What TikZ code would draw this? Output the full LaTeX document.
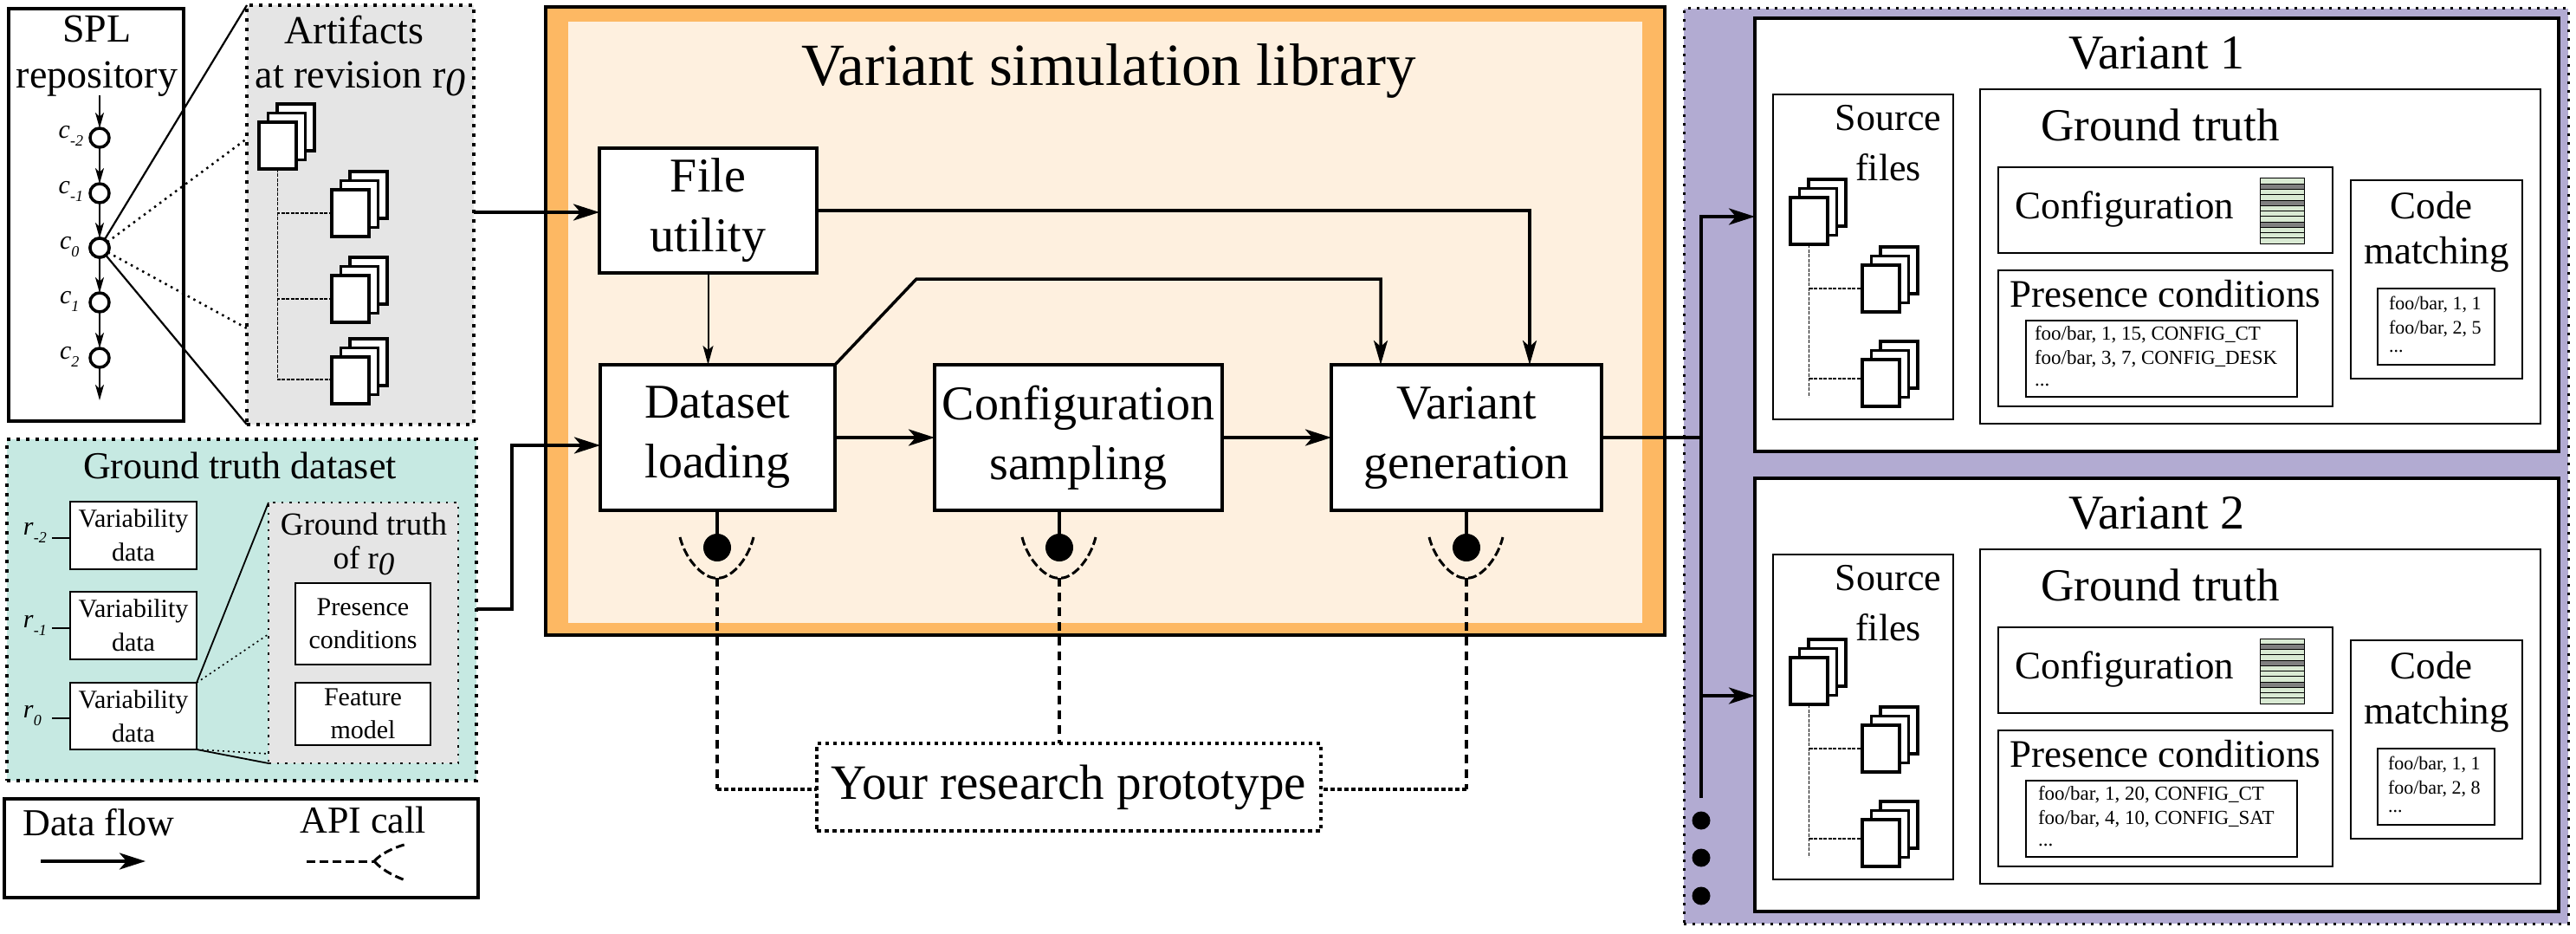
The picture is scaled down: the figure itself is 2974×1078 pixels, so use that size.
\documentclass[tikz,border=0pt]{standalone}
\usepackage{fontspec}
\setmainfont{Liberation Serif}
\usetikzlibrary{arrows.meta}
\definecolor{grayfill}{HTML}{E5E5E5}
\definecolor{tealfill}{HTML}{C6E9E2}
\definecolor{orangeband}{HTML}{FDB863}
\definecolor{creamfill}{HTML}{FEF0DF}
\definecolor{purplefill}{HTML}{B2ABD2}
\definecolor{rowgreen}{HTML}{D9EAD3}
\definecolor{rowdark}{HTML}{808080}
\newcommand{\fs}[1]{\fontsize{#1}{#1}\selectfont}
\newcommand{\revzero}{{\itshape\raisebox{-.18em}{0}}}
\newcommand{\sublab}[2]{\textit{#1}\raisebox{-.3em}{\fontsize{18}{18}\selectfont\textit{#2}}}
% name, x1, y1, x2, y2, options, text
\newcommand{\bx}[7]{%
  \pgfmathsetmacro\cxv{(#2+#4)/2}\pgfmathsetmacro\cyv{(#3+#5)/2}%
  \pgfmathsetmacro\wv{#4-#2}\pgfmathsetmacro\hv{#5-#3}%
  \node[#6,minimum width=\wv pt,minimum height=\hv pt] (#1) at (\cxv,\cyv) {#7};}
% document stack: name, front x1, front y1
\newcommand{\docs}[3]{%
  \pgfmathsetmacro\dxa{#2+21}\pgfmathsetmacro\dya{#3-21}%
  \pgfmathsetmacro\dxb{#2+10.5}\pgfmathsetmacro\dyb{#3-10.5}%
  \node[docsheet,anchor=north west] (#1c) at (\dxa,\dya) {};
  \node[docsheet,anchor=north west] (#1b) at (\dxb,\dyb) {};
  \node[docsheet,anchor=north west] (#1a) at (#2,#3) {};}
% API socket: name, x, box
\newcommand{\apisock}[3]{%
  \node[ballnode] (#1) at (#2,632) {};
  \draw[boxline] (#1 |- #3.south) -- (#1.center);
  \coordinate (#1bot) at (#2,667);
  \pgfmathsetmacro\sxl{#2-43}\pgfmathsetmacro\sxr{#2+42}%
  \pgfmathsetmacro\scl{#2-36}\pgfmathsetmacro\scm{#2-14}\pgfmathsetmacro\scn{#2+14}\pgfmathsetmacro\sco{#2+35}%
  \draw[sockline] (\sxl,620) .. controls (\scl,648) and (\scm,669) .. (#1bot) .. controls (\scn,669) and (\sco,648) .. (\sxr,620);}
% one variant panel: prefix, y top shift, title, pc line 1, pc line 2, cm line 2, pc x, cm x
\newcommand{\variantpanel}[8]{%
\begin{scope}[shift={(0,#2)}]
  \bx{#1box}{2026}{21}{2954}{521}{plainbox,line width=3.5pt}{}
  \node[txt,font=\fs{56}] (#1title) at (2490,61) {#3};
  \bx{#1src}{2047}{109}{2255}{484}{plainbox,line width=2pt}{}
  \node[txt,font=\fs{44}] (#1srca) at (2180,136) {Source};
  \node[txt,font=\fs{44}] (#1srcb) at (2180,193) {files};
  \docs{#1da}{2067}{228}
  \docs{#1db}{2150}{306}
  \docs{#1dc}{2150}{415}
  \coordinate (#1tend) at (2088.5,458);
  \coordinate (#1tbr) at (2150,437);
  \draw[treeline] (#1daa.south) -- (#1tend);
  \draw[treeline] (#1daa.south |- #1dba.west) -- (#1dba.west);
  \draw[treeline] (#1daa.south |- #1tbr) -- (#1tbr);
  \bx{#1gt}{2286}{103}{2933}{489}{plainbox,line width=2.5pt}{}
  \node[txt,font=\fs{53}] (#1gtt) at (2494,144) {Ground truth};
  \bx{#1cfg}{2307}{193}{2693}{292}{plainbox,line width=2.5pt}{}
  \node[txt,font=\fs{45}] (#1cfgt) at (2453,242) {Configuration};
  \foreach \r/\c in {0/rowgreen,1/rowdark,2/rowgreen,3/rowgreen,4/rowdark,5/rowgreen,6/rowgreen,7/rowgreen,8/rowdark,9/rowgreen,10/rowgreen,11/rowgreen}{
    \pgfmathsetmacro\ry{206+\r*6.27}
    \node[rownode,fill=\c,anchor=north west] (#1row\r) at (2609,\ry) {};}
  \bx{#1pc}{2307}{312}{2693}{469}{plainbox,line width=2.5pt}{}
  \node[txt,font=\fs{45}] (#1pct) at (2500,339) {Presence conditions};
  \bx{#1pci}{2339}{370}{2652}{458}{plainbox,line width=2.5pt}{}
  \node[txt,font=\fs{23},anchor=west] (#1pca) at (#7,386) {#4};
  \node[txt,font=\fs{23},anchor=west] (#1pcb) at (#7,414) {#5};
  \node[txt,font=\fs{23},anchor=west] (#1pcc) at (#7,444) {...};
  \bx{#1cm}{2714}{208}{2912}{437}{plainbox,line width=2.5pt}{}
  \node[txt,font=\fs{45}] (#1cmt) at (2807,237) {Code};
  \node[txt,font=\fs{45}] (#1cmu) at (2813,294) {matching};
  \bx{#1cmi}{2745}{333}{2880}{421}{plainbox,line width=2.5pt}{}
  \node[txt,font=\fs{22},anchor=west] (#1cma) at (#8,351) {foo/bar, 1, 1};
  \node[txt,font=\fs{22},anchor=west] (#1cmb) at (#8,379) {#6};
  \node[txt,font=\fs{22},anchor=west] (#1cmc) at (#8,406) {...};
\end{scope}}
\tikzset{
  txt/.style={inner sep=0pt,outer sep=0pt,align=center},
  plainbox/.style={draw=black,fill=white,inner sep=0pt,outer sep=0pt,align=center},
  procbox/.style={plainbox,line width=3.5pt,font=\fontsize{56}{69}\selectfont},
  dotbox/.style={draw=black,line width=4pt,dash pattern=on 4pt off 7pt,inner sep=0pt,outer sep=0pt},
  docsheet/.style={draw=black,fill=white,line width=3.5pt,inner sep=0pt,outer sep=0pt,minimum width=43pt,minimum height=54pt},
  rownode/.style={draw=black,line width=1pt,inner sep=0pt,outer sep=0pt,minimum width=51pt,minimum height=6.27pt},
  treeline/.style={draw=black,line width=1.3pt,dash pattern=on 4pt off 1.5pt},
  commit/.style={circle,draw=black,fill=white,line width=3.5pt,inner sep=0pt,outer sep=0pt,minimum size=22pt},
  thinflow/.style={line width=2pt,-{Stealth[length=18pt,width=10pt,inset=5pt]}},
  flow/.style={line width=4pt,-{Stealth[length=30pt,width=19pt,inset=8pt]}},
  midflow/.style={line width=3.5pt,-{Stealth[length=28pt,width=16pt,inset=7pt]}},
  boxline/.style={line width=3.5pt},
  zoomline/.style={line width=2.2pt},
  zoomdots/.style={line width=2.5pt,dash pattern=on 2.5pt off 5pt},
  ballnode/.style={circle,fill=black,inner sep=0pt,outer sep=0pt,minimum size=32pt},
  smallball/.style={circle,fill=black,inner sep=0pt,outer sep=0pt,minimum size=21pt},
  sockline/.style={line width=3pt,dash pattern=on 10pt off 4pt},
  apiline/.style={line width=3.2pt,dash pattern=on 10pt off 7pt},
  apidots/.style={line width=4pt,dash pattern=on 5pt off 3pt},
}
\begin{document}
\begin{tikzpicture}[x=1pt,y=-1pt]
\useasboundingbox (0,0) rectangle (2974,1078);
\fill[white] (0,0) rectangle (2974,1078);

% SPL repository
\bx{spl}{10}{10}{212}{486}{plainbox,line width=3.5pt}{}
\node[txt,font=\fs{46}] (splt) at (112,33) {SPL};
\node[txt,font=\fs{46}] (splu) at (112,91) {repository};
\coordinate (cstart) at (115,110);
\coordinate (cend) at (115,462);
\node[commit] (c2m) at (115,159) {};
\node[commit] (c1m) at (115,223) {};
\node[commit] (c0) at (115,286) {};
\node[commit] (c1) at (115,349) {};
\node[commit] (c2) at (115,413) {};
\draw[thinflow] (cstart) -- (c2m.north);
\draw[thinflow] (c2m.south) -- (c1m.north);
\draw[thinflow] (c1m.south) -- (c0.north);
\draw[thinflow] (c0.south) -- (c1.north);
\draw[thinflow] (c1.south) -- (c2.north);
\draw[thinflow] (c2.south) -- (cend);
\node[txt,font=\fs{30},anchor=east] (lc2m) at (96,157) {\sublab{c}{-2}};
\node[txt,font=\fs{30},anchor=east] (lc1m) at (96,221) {\sublab{c}{-1}};
\node[txt,font=\fs{30},anchor=west] (lc0) at (69,285) {\sublab{c}{0}};
\node[txt,font=\fs{30},anchor=west] (lc1) at (69,348) {\sublab{c}{1}};
\node[txt,font=\fs{30},anchor=west] (lc2) at (69,412) {\sublab{c}{2}};

% Artifacts
\bx{art}{285}{6}{547}{490}{dotbox,fill=grayfill}{}
\node[txt,font=\fs{46}] (artt) at (409,35) {Artifacts};
\node[txt,font=\fs{46}] (artu) at (416,91) {at revision r\revzero};
\docs{ad1}{299}{141}
\docs{ad2}{383}{219}
\docs{ad3}{383}{318}
\docs{ad4}{383}{412}
\coordinate (atree) at (383,438);
\draw[treeline] (ad1a.south) |- (ad2a.west);
\draw[treeline] (ad1a.south) |- (ad3a.west);
\draw[treeline] (ad1a.south) |- (atree);
\coordinate (zta) at (285,6);
\coordinate (ztb) at (285,160);
\coordinate (ztc) at (285,379);
\coordinate (ztd) at (285,490);
\draw[zoomline] (c0) -- (zta);
\draw[zoomline] (c0) -- (ztd);
\draw[zoomdots] (c0) -- (ztb);
\draw[zoomdots] (c0) -- (ztc);
\node[commit] (c0top) at (115,286) {};

% Ground truth dataset
\bx{gtd}{8}{507}{550}{901}{dotbox,fill=tealfill}{}
\node[txt,font=\fs{44}] (gtdt) at (277,537) {Ground truth dataset};
\tikzset{varbox/.style={plainbox,line width=2.5pt,font=\fontsize{30}{39}\selectfont}}
\bx{vda}{81}{579}{227}{657}{varbox}{Variability\\data}
\bx{vdb}{81}{683}{227}{761}{varbox}{Variability\\data}
\bx{vdc}{81}{788}{227}{865}{varbox}{Variability\\data}
\node[txt,font=\fs{30},anchor=west] (ra) at (27,615) {\sublab{r}{-2}};
\node[txt,font=\fs{30},anchor=west] (rb) at (27,722) {\sublab{r}{-1}};
\node[txt,font=\fs{30},anchor=west] (rc) at (27,826) {\sublab{r}{0}};
\coordinate (ta) at (60,621);
\coordinate (tb) at (60,725);
\coordinate (tc) at (60,829);
\draw[line width=1.5pt] (ta) -- (ta -| vda.west);
\draw[line width=1.5pt] (tb) -- (tb -| vdb.west);
\draw[line width=1.5pt] (tc) -- (tc -| vdc.west);
\bx{gtr}{310}{580}{529}{881}{draw=black,fill=grayfill,line width=2.5pt,dash pattern=on 2.5pt off 7pt,inner sep=0pt,outer sep=0pt}{}
\node[txt,font=\fs{37}] (gtrt) at (420,605) {Ground truth};
\node[txt,font=\fs{37}] (gtru) at (420,647) {of r\revzero};
\bx{pcb}{341}{673}{497}{767}{plainbox,line width=2.5pt,font=\fontsize{30}{38}\selectfont}{Presence\\conditions}
\bx{fmb}{341}{788}{497}{860}{plainbox,line width=2.5pt,font=\fontsize{30}{38}\selectfont}{Feature\\model}
\coordinate (zga) at (310,580);
\coordinate (zgb) at (310,732);
\coordinate (zgc) at (310,870);
\coordinate (zgd) at (310,881);
\draw[line width=1.8pt] (vdc.north east) -- (zga);
\draw[line width=1.8pt] (vdc.south east) -- (zgd);
\draw[line width=1.6pt,dash pattern=on 2pt off 4pt] (vdc.north east) -- (zgb);
\draw[line width=1.6pt,dash pattern=on 2pt off 4pt] (vdc.south east) -- (zgc);

% Legend
\bx{leg}{5}{922}{552}{1036}{plainbox,line width=3.5pt}{}
\node[txt,font=\fs{44}] (legt) at (114,949) {Data flow};
\node[txt,font=\fs{44}] (legu) at (419,946) {API call};
\coordinate (lfa) at (47,994);
\coordinate (lfb) at (168,994);
\draw[flow] (lfa) -- (lfb);
\coordinate (laa) at (354,994);
\coordinate (lab) at (432,994);
\coordinate (lac) at (470,974);
\coordinate (lad) at (468,1016);
\draw[sockline,dash pattern=on 10pt off 5pt] (laa) -- (lab);
\draw[sockline,dash pattern=on 10pt off 5pt] (lab) .. controls (440,985) and (455,978) .. (lac);
\draw[sockline,dash pattern=on 10pt off 5pt] (lab) .. controls (440,1003) and (452,1010) .. (lad);

% Variant simulation library
\bx{lib}{630}{8}{1922}{733}{draw=black,fill=orangeband,line width=4.5pt,inner sep=0pt,outer sep=0pt}{}
\bx{libi}{656}{25}{1896}{719}{fill=creamfill,inner sep=0pt,outer sep=0pt}{}
\node[txt,font=\fs{69}] (libt) at (1280,82) {Variant simulation library};
\bx{fu}{692}{171}{943}{315}{procbox}{File\\utility}
\bx{dl}{693}{421}{964}{589}{procbox}{Dataset\\loading}
\bx{cs}{1079}{421}{1411}{589}{procbox}{Configuration\\sampling}
\bx{vg}{1537}{421}{1849}{589}{procbox}{Variant\\generation}

% Right panel
\bx{pan}{1944}{10}{2965}{1066}{draw=black,fill=purplefill,line width=3pt,dash pattern=on 3pt off 7pt,inner sep=0pt,outer sep=0pt}{}
\variantpanel{va}{0}{Variant 1}{foo/bar, 1, 15, CONFIG\_CT}{foo/bar, 3, 7, CONFIG\_DESK}{foo/bar, 2, 5}{2349}{2758}
\variantpanel{vb}{531}{Variant 2}{foo/bar, 1, 20, CONFIG\_CT}{foo/bar, 4, 10, CONFIG\_SAT}{foo/bar, 2, 8}{2353}{2757}
\node[smallball] (da) at (1964,947) {};
\node[smallball] (db) at (1964,990) {};
\node[smallball] (dc) at (1964,1034) {};

% Flows
\coordinate (fua) at (547,245);
\draw[flow] (fua) -- (fua -| fu.west);
\coordinate (gta) at (550,703);
\coordinate (gtb) at (591,703);
\coordinate (gtc) at (591,514);
\draw[flow] (gta) -- (gtb) -- (gtc) -- (gtc -| dl.west);
\draw[thinflow,-{Stealth[length=22pt,width=12pt,inset=5pt]}] (fu.south) -- (fu.south |- dl.north);
\coordinate (fub) at (943,243);
\coordinate (fuc) at (1766,243);
\draw[midflow] (fub) -- (fuc) -- (fuc |- vg.north);
\coordinate (dla) at (1058,322);
\coordinate (dlb) at (1594,322);
\draw[midflow] (dl.north east) -- (dla) -- (dlb) -- (dlb |- vg.north);
\draw[flow] (dl.east) -- (cs.west);
\draw[flow] (cs.east) -- (vg.west);
\coordinate (bus) at (1964,505);
\coordinate (busa) at (1964,250);
\coordinate (busb) at (1964,921);
\coordinate (busc) at (1964,803);
\draw[line width=4pt] (vg.east) -- (bus);
\draw[flow] (busb) -- (busa) -- (busa -| vabox.west);
\draw[flow] (busc) -- (busc -| vbbox.west);

% API calls
\apisock{ba}{828}{dl}
\apisock{bb}{1223}{cs}
\apisock{bc}{1693}{vg}
\bx{yrp}{943}{858}{1525}{959}{draw=black,fill=white,line width=3.5pt,dash pattern=on 4.5pt off 4.5pt,inner sep=0pt,outer sep=0pt,font=\fs{57}}{Your research prototype}
\coordinate (apia) at (828,911);
\coordinate (apic) at (1693,911);
\draw[apiline] (babot) -- (apia);
\draw[apidots] (apia) -- (apia -| yrp.west);
\draw[apiline] (bbbot) -- (bbbot |- yrp.north);
\draw[apiline] (bcbot) -- (apic);
\draw[apidots] (apic) -- (apic -| yrp.east);
\end{tikzpicture}
\end{document}
